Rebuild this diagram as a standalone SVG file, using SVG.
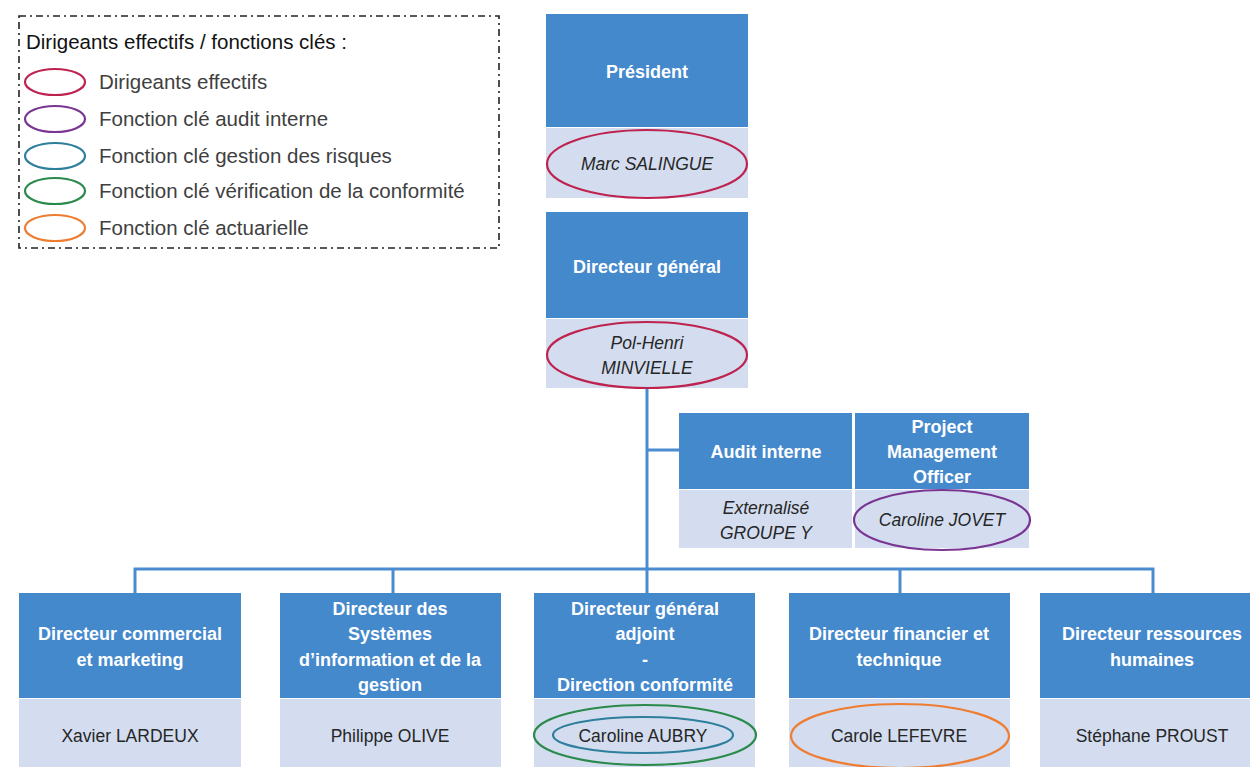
<svg xmlns="http://www.w3.org/2000/svg" width="1250" height="767" viewBox="0 0 1250 767">
<style>
.hd{fill:#4589cd}
.bd{fill:#d3ddef}
.t{font-family:"Liberation Sans",Arial,sans-serif;font-size:18px;font-weight:bold;fill:#fff;text-anchor:middle}
.n{font-family:"Liberation Sans",Arial,sans-serif;font-size:17.5px;fill:#262626;text-anchor:middle}
.i{font-style:italic}
.lg{font-family:"Liberation Sans",Arial,sans-serif;font-size:20.5px;fill:#404040}
.ov{fill:none;stroke-width:2.2}
.red{stroke:#be2350}.pur{stroke:#7a3592}.tea{stroke:#2d7f9c}.grn{stroke:#2a8a4c}.org{stroke:#ee7d31}
.c{fill:none;stroke:#4a8ccf;stroke-width:3}
</style>
<rect width="1250" height="767" fill="#fff"/>
<g id="legend">
<rect x="19" y="16" width="480" height="232" fill="none" stroke="#222" stroke-width="1.6" stroke-dasharray="7,4,2,4"/>
<text x="26" y="49" font-family="Liberation Sans,Arial,sans-serif" font-size="20.5" fill="#111">Dirigeants effectifs / fonctions clés :</text>
<ellipse class="ov red" cx="55" cy="82" rx="30" ry="13"/>
<ellipse class="ov pur" cx="55" cy="119" rx="30" ry="13"/>
<ellipse class="ov tea" cx="55" cy="156" rx="30" ry="13"/>
<ellipse class="ov grn" cx="55" cy="191" rx="30" ry="13"/>
<ellipse class="ov org" cx="55" cy="228" rx="30" ry="13"/>
<text class="lg" x="99" y="89">Dirigeants effectifs</text>
<text class="lg" x="99" y="126">Fonction clé audit interne</text>
<text class="lg" x="99" y="163">Fonction clé gestion des risques</text>
<text class="lg" x="99" y="198">Fonction clé vérification de la conformité</text>
<text class="lg" x="99" y="235">Fonction clé actuarielle</text>
</g>
<g id="connectors">
<line class="c" x1="647" y1="388" x2="647" y2="569"/>
<line class="c" x1="647" y1="450" x2="679" y2="450"/>
<path class="c" d="M135 593 V569 H1153 V593"/>
<line class="c" x1="393" y1="569" x2="393" y2="593"/>
<line class="c" x1="647" y1="569" x2="647" y2="593"/>
<line class="c" x1="900" y1="569" x2="900" y2="593"/>
</g>
<g id="president">
<rect class="hd" x="546" y="14" width="202" height="113"/>
<rect class="bd" x="546" y="128" width="202" height="70"/>
<text class="t" x="647" y="78">Président</text>
<text class="n i" x="647" y="170">Marc SALINGUE</text>
<ellipse class="ov red" cx="647" cy="164" rx="100" ry="34"/>
</g>
<g id="dg">
<rect class="hd" x="546" y="212" width="202" height="106"/>
<rect class="bd" x="546" y="319" width="202" height="69"/>
<text class="t" x="647" y="273">Directeur général</text>
<text class="n i" x="647" y="349">Pol-Henri</text>
<text class="n i" x="647" y="374">MINVIELLE</text>
<ellipse class="ov red" cx="647" cy="355" rx="100" ry="33"/>
</g>
<g id="audit">
<rect class="hd" x="679" y="413" width="173" height="76"/>
<rect class="bd" x="679" y="490" width="173" height="58"/>
<text class="t" x="766" y="458">Audit interne</text>
<text class="n i" x="766" y="514">Externalisé</text>
<text class="n i" x="766" y="539">GROUPE Y</text>
</g>
<g id="pmo">
<rect class="hd" x="855" y="413" width="174" height="76"/>
<rect class="bd" x="855" y="490" width="174" height="58"/>
<text class="t" x="942" y="433">Project</text>
<text class="t" x="942" y="458">Management</text>
<text class="t" x="942" y="483">Officer</text>
<text class="n i" x="942" y="526">Caroline JOVET</text>
<ellipse class="ov pur" cx="942" cy="520" rx="88" ry="30"/>
</g>
<g id="commercial">
<rect class="hd" x="19" y="593" width="222" height="105"/>
<rect class="bd" x="19" y="699" width="222" height="68"/>
<text class="t" x="130" y="640">Directeur commercial</text>
<text class="t" x="130" y="666">et marketing</text>
<text class="n" x="130" y="742">Xavier LARDEUX</text>
</g>
<g id="si">
<rect class="hd" x="280" y="593" width="221" height="105"/>
<rect class="bd" x="280" y="699" width="221" height="68"/>
<text class="t" x="390" y="615">Directeur des</text>
<text class="t" x="390" y="640">Systèmes</text>
<text class="t" x="390" y="666">d’information  et de la</text>
<text class="t" x="390" y="691">gestion</text>
<text class="n" x="390" y="742">Philippe OLIVE</text>
</g>
<g id="dga">
<rect class="hd" x="534" y="593" width="221" height="105"/>
<rect class="bd" x="534" y="699" width="221" height="68"/>
<text class="t" x="645" y="615">Directeur général</text>
<text class="t" x="645" y="640">adjoint</text>
<text class="t" x="645" y="666">-</text>
<text class="t" x="645" y="691">Direction conformité</text>
<text class="n" x="643" y="742">Caroline AUBRY</text>
<ellipse class="ov grn" cx="645" cy="735" rx="111" ry="30"/>
<ellipse class="ov tea" cx="643" cy="735" rx="90" ry="18"/>
</g>
<g id="financier">
<rect class="hd" x="789" y="593" width="221" height="105"/>
<rect class="bd" x="789" y="699" width="221" height="68"/>
<text class="t" x="899" y="640">Directeur financier et</text>
<text class="t" x="899" y="666">technique</text>
<text class="n" x="899" y="742">Carole LEFEVRE</text>
<ellipse class="ov org" cx="900" cy="736" rx="109" ry="32"/>
</g>
<g id="rh">
<rect class="hd" x="1040" y="593" width="210" height="105"/>
<rect class="bd" x="1040" y="699" width="210" height="68"/>
<text class="t" x="1152" y="640">Directeur ressources</text>
<text class="t" x="1152" y="666">humaines</text>
<text class="n" x="1152" y="742">Stéphane PROUST</text>
</g>
</svg>
